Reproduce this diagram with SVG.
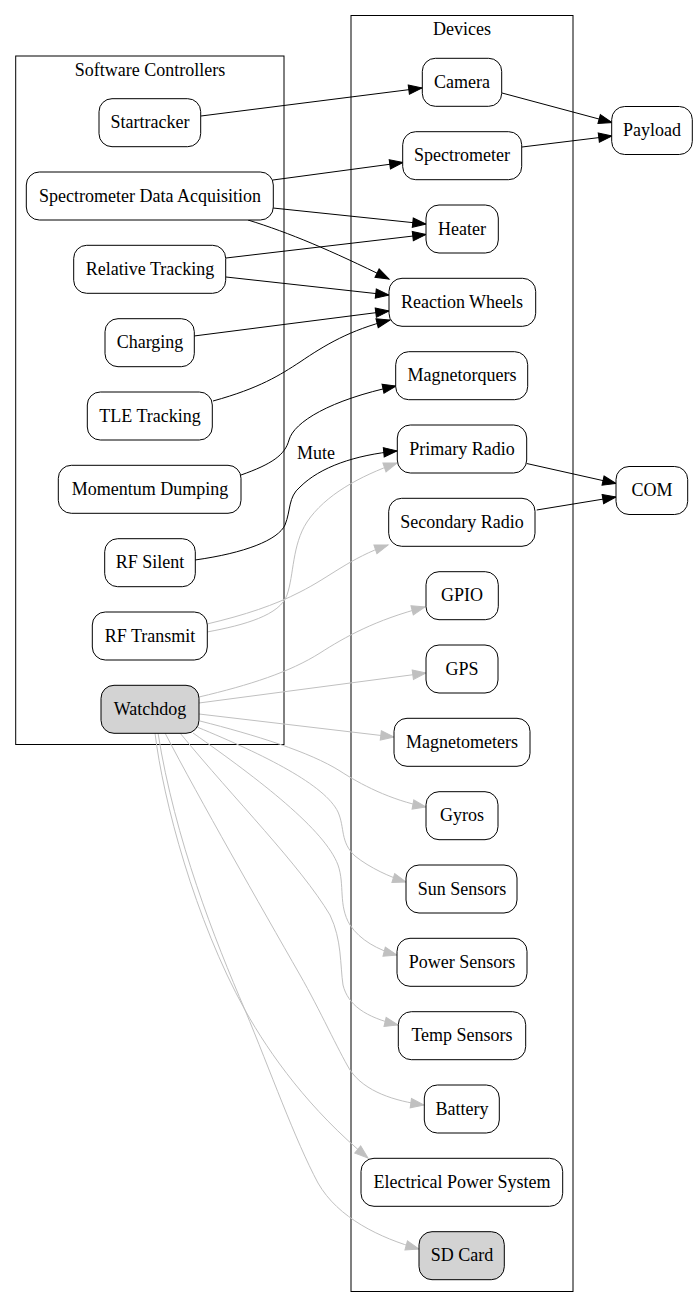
<svg xmlns="http://www.w3.org/2000/svg" width="697" height="1308" viewBox="0 0 697 1308">
<style>
text{font-family:"Liberation Serif","Times New Roman",serif;font-size:18px;fill:#000;text-anchor:middle}
.cl{fill:none;stroke:#000;stroke-width:1}
.n rect{fill:#fff;stroke:#000;stroke-width:1}
.n.f rect{fill:#d3d3d3}
.e{fill:none;stroke:#000;stroke-width:1;marker-end:url(#ab)}
.g{fill:none;stroke:#c0c0c0;stroke-width:1;marker-end:url(#ag)}
</style>
<defs>
<marker id="ab" markerUnits="userSpaceOnUse" markerWidth="15" markerHeight="11" refX="13.3" refY="5" orient="auto" overflow="visible"><path d="M0,0.33 L13.3,5 L0,9.67 z" fill="#000" stroke="#000" stroke-width="1"/></marker>
<marker id="ag" markerUnits="userSpaceOnUse" markerWidth="15" markerHeight="11" refX="13.3" refY="5" orient="auto" overflow="visible"><path d="M0,0.33 L13.3,5 L0,9.67 z" fill="#c0c0c0" stroke="#c0c0c0" stroke-width="1"/></marker>
</defs>
<rect width="697" height="1308" fill="#fff"/>
<g id="cluster_software">
<rect class="cl" x="15.7" y="56" width="268.3" height="688.5"/>
<text x="150" y="76">Software Controllers</text>
</g>
<g id="cluster_devices">
<rect class="cl" x="351" y="15.5" width="222" height="1276"/>
<text x="462" y="35">Devices</text>
</g>
<g id="edges">
<path class="e" d="M201,116 L422,88"/>
<path class="e" d="M502,93 L612,122.5"/>
<path class="e" d="M522,147 L612,136"/>
<path class="e" d="M273,180 L403,162.5"/>
<path class="e" d="M273,208 L426,224"/>
<path class="e" d="M248,220 C290,233 330,250 389,279"/>
<path class="e" d="M226,258 L426,234.5"/>
<path class="e" d="M226,277 L389,295"/>
<path class="e" d="M194,336 L389,311"/>
<path class="e" d="M213,401 C260,388 280,375 300,362 C325,345 350,330 390,320"/>
<path class="e" d="M241,475 C272,464 285,455 289,440 C294,422 330,400 396,386"/>
<path class="e" d="M195,560 C245,553 278,540 285,525 C291,510 288,497 300,487 C320,467 355,455 397,451"/>
<text x="316" y="459">Mute</text>
<path class="e" d="M526.7,463.5 L616,483.5"/>
<path class="e" d="M536.7,510 L616,497"/>
<path class="g" d="M207,632 C245,625 280,615 287,595 C294,575 292,545 307,522 C325,495 360,476 397,463"/>
<path class="g" d="M207,624 C245,615 275,605 300,592 C330,577 350,558 388,545"/>
<path class="g" d="M199,697 C250,685 290,672 320,653 C345,637 375,620 425,607"/>
<path class="g" d="M199,703 L426,673"/>
<path class="g" d="M199,714 L394,737"/>
<path class="g" d="M200,721 C255,735 310,752 340,771 C360,784 390,800 426,807"/>
<path class="g" d="M197,727 C265,755 325,785 338,812 C345,828 340,842 355,856 C370,868 390,877 406,882"/>
<path class="g" d="M193,733 C260,780 325,830 338,865 C345,885 338,905 350,925 C360,940 378,950 397,955"/>
<path class="g" d="M180,733 C235,800 300,865 330,915 C342,940 340,965 343,985 C348,1005 365,1017 398,1025"/>
<path class="g" d="M165,733 C200,800 260,905 300,975 C320,1010 338,1050 350,1070 C365,1092 395,1101 424,1105"/>
<path class="g" d="M155,733 C163,800 195,920 245,1010 C270,1055 310,1110 368,1158"/>
<path class="g" d="M158,733 C175,840 215,940 245,1010 C270,1070 295,1140 318,1183 C338,1218 380,1238 419,1249"/>
</g>
<g id="startracker" class="n"><rect x="99" y="98.7" width="101.7" height="48" rx="13"/><text x="150" y="128.3">Startracker</text></g>
<g id="sda" class="n"><rect x="26.3" y="172" width="247" height="48" rx="13"/><text x="150" y="201.6">Spectrometer Data Acquisition</text></g>
<g id="relative_tracking" class="n"><rect x="73.7" y="245.3" width="152" height="48" rx="13"/><text x="150" y="274.9">Relative Tracking</text></g>
<g id="charging" class="n"><rect x="105" y="318.7" width="89.3" height="48" rx="13"/><text x="150" y="348.3">Charging</text></g>
<g id="tle_tracking" class="n"><rect x="87.3" y="392" width="125" height="48" rx="13"/><text x="150" y="421.6">TLE Tracking</text></g>
<g id="momentum_dumping" class="n"><rect x="58.3" y="465.3" width="182.7" height="48" rx="13"/><text x="150" y="494.9">Momentum Dumping</text></g>
<g id="rf_silent" class="n"><rect x="104.7" y="538.7" width="90.6" height="48" rx="13"/><text x="150" y="568.3">RF Silent</text></g>
<g id="rf_transmit" class="n"><rect x="92.3" y="612" width="115" height="48" rx="13"/><text x="150" y="641.6">RF Transmit</text></g>
<g id="watchdog" class="n f"><rect x="101" y="685.3" width="98" height="48" rx="13"/><text x="150" y="714.9">Watchdog</text></g>
<g id="camera" class="n"><rect x="422.3" y="58.3" width="79.4" height="48" rx="13"/><text x="462" y="87.9">Camera</text></g>
<g id="spectrometer" class="n"><rect x="402.7" y="131.7" width="119" height="48" rx="13"/><text x="462" y="161.3">Spectrometer</text></g>
<g id="heater" class="n"><rect x="426" y="205" width="72.3" height="48" rx="13"/><text x="462" y="234.6">Heater</text></g>
<g id="reaction_wheels" class="n"><rect x="389" y="278.3" width="146.7" height="48" rx="13"/><text x="462" y="307.9">Reaction Wheels</text></g>
<g id="magnetorquers" class="n"><rect x="395.7" y="351.7" width="132" height="48" rx="13"/><text x="462" y="381.3">Magnetorquers</text></g>
<g id="primary_radio" class="n"><rect x="397.3" y="425" width="129.4" height="48" rx="13"/><text x="462" y="454.6">Primary Radio</text></g>
<g id="secondary_radio" class="n"><rect x="388.7" y="498.3" width="146.3" height="48" rx="13"/><text x="462" y="527.9">Secondary Radio</text></g>
<g id="gpio" class="n"><rect x="426" y="571.7" width="72.3" height="48" rx="13"/><text x="462" y="601.3">GPIO</text></g>
<g id="gps" class="n"><rect x="426" y="645" width="72" height="48" rx="13"/><text x="462" y="674.6">GPS</text></g>
<g id="magnetometers" class="n"><rect x="394" y="718.3" width="136" height="48" rx="13"/><text x="462" y="747.9">Magnetometers</text></g>
<g id="gyros" class="n"><rect x="426" y="791.7" width="72" height="48" rx="13"/><text x="462" y="821.3">Gyros</text></g>
<g id="sun_sensors" class="n"><rect x="406" y="865" width="111" height="48" rx="13"/><text x="462" y="894.6">Sun Sensors</text></g>
<g id="power_sensors" class="n"><rect x="397" y="938.3" width="130" height="48" rx="13"/><text x="462" y="967.9">Power Sensors</text></g>
<g id="temp_sensors" class="n"><rect x="398.3" y="1011.7" width="127.4" height="48" rx="13"/><text x="462" y="1041.3">Temp Sensors</text></g>
<g id="battery" class="n"><rect x="424.3" y="1085" width="75" height="48" rx="13"/><text x="462" y="1114.6">Battery</text></g>
<g id="eps" class="n"><rect x="361" y="1158.3" width="201.7" height="48" rx="13"/><text x="462" y="1187.9">Electrical Power System</text></g>
<g id="sd_card" class="n f"><rect x="419" y="1231.7" width="85.3" height="48" rx="13"/><text x="462" y="1261.3">SD Card</text></g>
<g id="payload" class="n"><rect x="611.7" y="106.5" width="80.6" height="48" rx="13"/><text x="652" y="136.1">Payload</text></g>
<g id="com" class="n"><rect x="616" y="466.5" width="71.7" height="48" rx="13"/><text x="652" y="496.1">COM</text></g>
</svg>
